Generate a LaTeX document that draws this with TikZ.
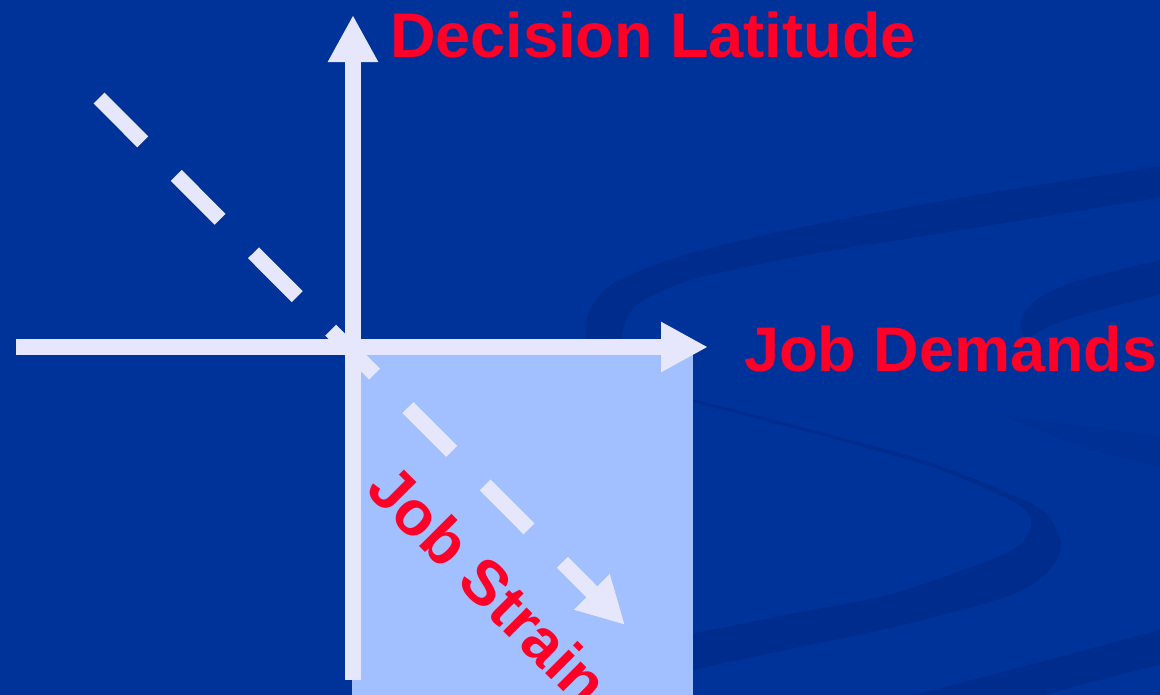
\documentclass[tikz,border=0pt]{standalone}
\usepackage{fontspec}
\setmainfont{Liberation Sans}
\usetikzlibrary{arrows.meta}

\definecolor{slidebg}{RGB}{0,51,153}
\definecolor{swirl}{RGB}{0,45,141}
\definecolor{swirlfaint}{RGB}{0,48,147}
\definecolor{axisgray}{RGB}{230,230,252}
\definecolor{strainzone}{RGB}{162,192,255}
\definecolor{labelred}{RGB}{255,0,40}

\begin{document}
\begin{tikzpicture}[x=0.75pt,y=-0.75pt,
  axisline/.style={draw=axisgray, line width=11.6pt,
    -{Triangle[length=35.25pt,width=35.25pt]}},
  strainline/.style={axisline, dash pattern=on 46.5pt off 35.5pt},
  axislabel/.style={text=labelred, font=\fontsize{47.3}{56}\selectfont\bfseries,
    inner sep=0pt, outer sep=0pt}
]
\useasboundingbox (0,0) rectangle (1160,694);
\clip (0,0) rectangle (1160,694);
% slide background
\fill[slidebg] (-10,-10) rectangle (1170,704);

% background ribbons
\fill[swirl] plot[smooth] coordinates {(1170,165) (987,193) (802,227) (691,253) (617,281) (588,313) (586,360)}
  -- plot[smooth] coordinates {(622,360) (623,330) (637,305) (691,280) (802,256) (987,226) (1170,196)} -- cycle;
\fill[swirl] plot[smooth] coordinates {(680,396) (693,399) (913,457) (1017,497) (1047,514) (1061,545) (1047,573) (1006,597) (895,627) (795,648) (680,673)}
  -- plot[smooth] coordinates {(680,636) (795,613) (895,593) (1006,553) (1028,533) (1030,518) (1010,500) (913,461) (693,402) (680,399)} -- cycle;
\fill[swirl] plot[smooth] coordinates {(880,704) (1040,662) (1170,627)}
  -- plot[smooth] coordinates {(1170,662) (1100,680) (1010,704)} -- cycle;
\fill[swirl] plot[smooth] coordinates {(1170,258) (1080,280) (1039,298) (1021,318) (1024,338)}
  -- plot[smooth] coordinates {(1032,336) (1050,326) (1085,314) (1170,292)} -- cycle;
\fill[swirlfaint] plot[smooth] coordinates {(1000,414) (1080,426) (1170,437)}
  -- plot[smooth] coordinates {(1170,470) (1080,446) (1000,414)} -- cycle;

% job strain quadrant
\fill[strainzone] (352,347) rectangle (693,704);

% axes
\coordinate (origin) at (353,347);
\coordinate (latTop) at (353,15);
\coordinate (latBottom) at (353,680);
\coordinate (demLeft) at (16,347);
\coordinate (demRight) at (708,347);
\coordinate (strainStart) at (99,98);
\coordinate (strainEnd) at (625,625);

\draw[strainline] (strainStart) -- (strainEnd);
\draw[axisline] (latBottom) -- (latTop);
\draw[axisline] (demLeft) -- (demRight);

% labels
\node[axislabel, anchor=base west] (latLabel) at (390,57) {Decision Latitude};
\node[axislabel, anchor=base west] (demLabel) at (744,371) {Job Demands};
\node[axislabel, rotate=-45, anchor=center] (strainLabel) at (489,585) {Job Strain};
\end{tikzpicture}
\end{document}
